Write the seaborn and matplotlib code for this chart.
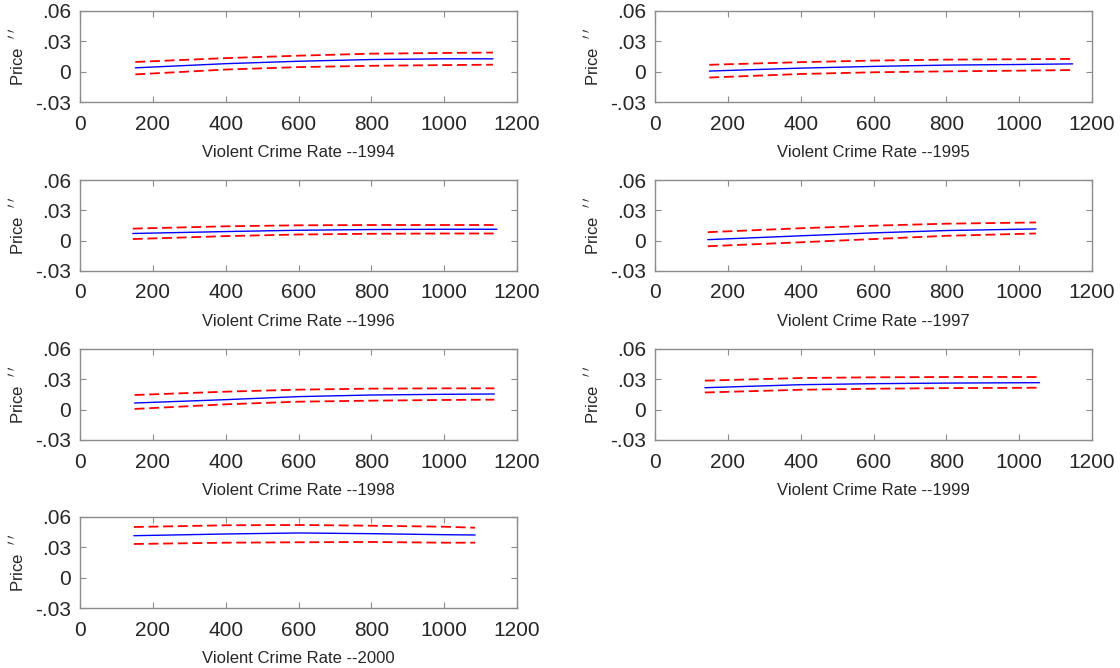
import matplotlib
matplotlib.use("Agg")
import matplotlib.pyplot as plt
import seaborn as sns
import pandas as pd

sns.set_style("white")
plt.rcParams['font.family'] = ['Liberation Sans', 'DejaVu Sans']

years = ["1994", "1995", "1996", "1997", "1998", "1999", "2000"]

x_1994 = [152, 400, 600, 800, 1000, 1134]
mid_1994 = [0.0038, 0.0079, 0.0103, 0.0120, 0.0127, 0.0127]
up_1994 = [0.0096, 0.0134, 0.0158, 0.0178, 0.0185, 0.0189]
lo_1994 = [-0.0027, 0.0021, 0.0045, 0.0058, 0.0065, 0.0069]

x_1995 = [149, 400, 600, 800, 1000, 1147]
mid_1995 = [0.0006, 0.0035, 0.0052, 0.0065, 0.0071, 0.0077]
up_1995 = [0.0068, 0.0094, 0.0110, 0.0119, 0.0123, 0.0126]
lo_1995 = [-0.0058, -0.0023, -0.0006, 0.0003, 0.0010, 0.0016]

x_1996 = [145, 400, 600, 800, 1000, 1145]
mid_1996 = [0.0071, 0.0090, 0.0103, 0.0110, 0.0113, 0.0113]
up_1996 = [0.0119, 0.0142, 0.0152, 0.0155, 0.0155, 0.0155]
lo_1996 = [0.0016, 0.0045, 0.0061, 0.0068, 0.0071, 0.0071]

x_1997 = [145, 400, 600, 800, 1046]
mid_1997 = [0.0010, 0.0048, 0.0077, 0.0100, 0.0116]
up_1997 = [0.0084, 0.0123, 0.0148, 0.0168, 0.0180]
lo_1997 = [-0.0055, -0.0016, 0.0016, 0.0048, 0.0071]

x_1998 = [150, 400, 600, 800, 1000, 1138]
mid_1998 = [0.0066, 0.0099, 0.0129, 0.0145, 0.0152, 0.0155]
up_1998 = [0.0145, 0.0178, 0.0198, 0.0208, 0.0211, 0.0211]
lo_1998 = [0.0007, 0.0053, 0.0079, 0.0089, 0.0096, 0.0099]

x_1999 = [137, 400, 600, 800, 1056]
mid_1999 = [0.0217, 0.0247, 0.0257, 0.0263, 0.0267]
up_1999 = [0.0287, 0.0313, 0.0320, 0.0323, 0.0323]
lo_1999 = [0.0170, 0.0197, 0.0207, 0.0213, 0.0217]

x_2000 = [148, 400, 600, 800, 1000, 1085]
mid_2000 = [0.0415, 0.0432, 0.0442, 0.0435, 0.0425, 0.0422]
up_2000 = [0.0501, 0.0518, 0.0521, 0.0514, 0.0504, 0.0494]
lo_2000 = [0.0333, 0.0346, 0.0350, 0.0353, 0.0346, 0.0346]

panels = {
    "1994": (x_1994, mid_1994, up_1994, lo_1994),
    "1995": (x_1995, mid_1995, up_1995, lo_1995),
    "1996": (x_1996, mid_1996, up_1996, lo_1996),
    "1997": (x_1997, mid_1997, up_1997, lo_1997),
    "1998": (x_1998, mid_1998, up_1998, lo_1998),
    "1999": (x_1999, mid_1999, up_1999, lo_1999),
    "2000": (x_2000, mid_2000, up_2000, lo_2000),
}

yticks = [-0.03, 0.0, 0.03, 0.06]
ytick_labels = ["-.03", "0", ".03", ".06"]
xticks = [0, 200, 400, 600, 800, 1000, 1200]

fig = plt.figure(figsize=(11.2, 6.68), dpi=100)
W, H = 1120, 668
lefts = [80, 655]
tops = [11, 180, 349, 517]
aw, ah = 437, 91

spine_c = "#8c8c8c"
text_c = "#262626"

for i, yr in enumerate(years):
    r, c = divmod(i, 2)
    l = lefts[c]
    t = tops[r]
    ax = fig.add_axes([l / W, 1 - (t + ah) / H, aw / W, ah / H])
    xs, mid, up, lo = panels[yr]
    sns.lineplot(x=xs, y=up, ax=ax, color="#ff0000", linewidth=1.3,
                 linestyle=(0, (5.5, 2.6)))
    sns.lineplot(x=xs, y=lo, ax=ax, color="#ff0000", linewidth=1.3,
                 linestyle=(0, (5.5, 2.6)))
    sns.lineplot(x=xs, y=mid, ax=ax, color="#0000ff", linewidth=1.0)
    ax.set_xlim(0, 1200)
    ax.set_ylim(-0.03, 0.06)
    ax.set_xticks(xticks)
    ax.set_xticklabels([str(v) for v in xticks])
    ax.set_yticks(yticks)
    ax.set_yticklabels(ytick_labels)
    ax.tick_params(direction="in", length=4, width=0.8, color=spine_c,
                   top=True, right=True, bottom=True, left=True,
                   labelsize=15, labelcolor=text_c)
    ax.tick_params(axis="x", pad=9)
    ax.tick_params(axis="y", pad=6.5)
    for s in ax.spines.values():
        s.set_visible(True)
        s.set_color(spine_c)
        s.set_linewidth(1.0)
    ax.set_xlabel("Violent Crime Rate --" + yr, fontsize=12, color=text_c,
                  labelpad=8.5)
    ax.set_ylabel("Price  $^{\\prime\\;\\prime}$", fontsize=12, color=text_c,
                  labelpad=6)
    ax.set_facecolor("white")

fig.savefig("out.png", dpi=100, facecolor="white")
